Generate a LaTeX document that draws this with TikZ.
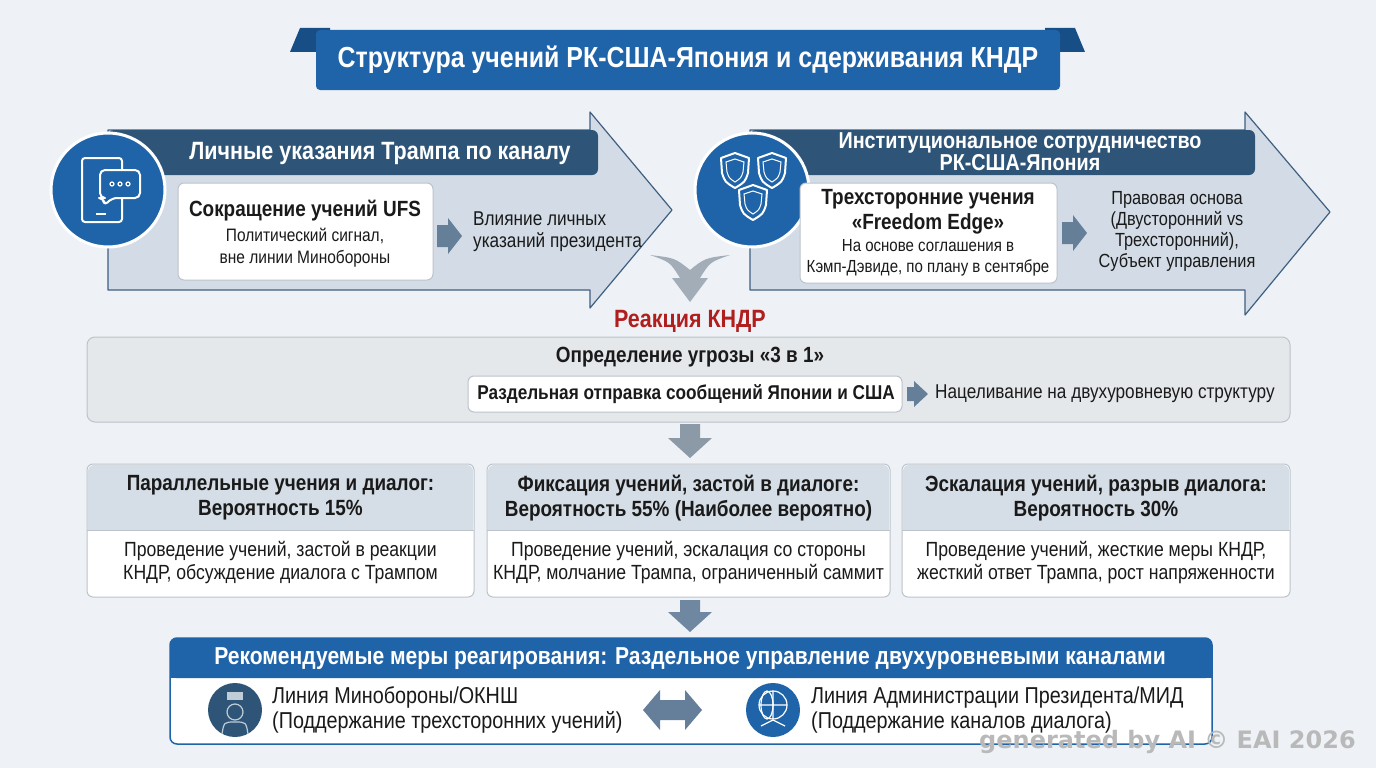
\documentclass[tikz,border=0pt]{standalone}
\usepackage{fontspec}
\setmainfont{Liberation Sans}[FakeStretch=0.86]
\newfontfamily\wmfont{DejaVu Sans}
\usetikzlibrary{arrows.meta,shapes.geometric}
\definecolor{bg}{HTML}{EEF2F6}
\definecolor{tblue}{HTML}{1F63A8}
\definecolor{dblue}{HTML}{174E86}
\definecolor{band}{HTML}{2E5577}
\definecolor{afill}{HTML}{D3DCE6}
\definecolor{aline}{HTML}{3F5F80}
\definecolor{gbox}{HTML}{E5E8EB}
\definecolor{gline}{HTML}{BCC3CA}
\definecolor{hfill}{HTML}{D5DDE6}
\definecolor{rred}{HTML}{B01E1E}
\definecolor{txt}{HTML}{1A1A1A}
\definecolor{garrow}{HTML}{8C99A6}
\tikzset{
  x=1pt,y=-1pt,
  every node/.style={text=txt,inner sep=0pt,align=center},
  wbox/.style={draw=gline,fill=white,rounded corners=6pt,line width=1pt},
  bigarrow/.style={draw=aline,fill=afill,line width=1.2pt,line join=round},
  bandst/.style={fill=band,rounded corners=6pt},
  circ/.style={circle,fill=tblue,draw=white,line width=3pt,minimum size=114pt},
  smallarr/.style={fill=aline!80},
  downarr/.style={fill=garrow},
  ticon/.style={draw=white,line width=2pt,line join=round},
}
\begin{document}
\begin{tikzpicture}
\useasboundingbox (0,0) rectangle (1376,768);
\fill[bg] (0,0) rectangle (1376,768);
% title
\fill[dblue] (290,52) -- (300,28) -- (330,28) -- (330,52) -- cycle;
\fill[dblue] (1085,52) -- (1075,28) -- (1045,28) -- (1045,52) -- cycle;
\fill[tblue,rounded corners=4pt] (316,30) rectangle (1060,90);
\node[text=white,font=\bfseries\fontsize{29}{32}\selectfont] (title) at (688,60) {Структура учений РК-США-Япония и сдерживания КНДР};
% left arrow
\draw[bigarrow] (108,130) -- (590,130) -- (590,112) -- (672,210) -- (590,308) -- (590,290) -- (108,290) -- cycle;
\fill[bandst] (108,130) rectangle (598,175);
\node[text=white,font=\bfseries\fontsize{25}{28}\selectfont] (lh) at (380,153) {Личные указания Трампа по каналу};
\node[circ] (lc) at (108,190) {};
\draw[ticon,rounded corners=3pt] (82,158) rectangle (122,222);
\draw[ticon] (96,214) -- (106,214);
\draw[ticon,fill=tblue,rounded corners=5pt] (100,170) -- (140,170) -- (140,198) -- (112,198) -- (104,206) -- (104,198) -- (100,198) -- cycle;
\foreach \i in {112,120,128} \draw[white,line width=1.2pt] (\i,184) circle (2pt);
\draw[wbox] (178,183) rectangle (433,280);
\node[font=\bfseries\fontsize{22}{26}\selectfont] (ufs) at (305,211) {Сокращение учений UFS};
\node[font=\fontsize{18}{22}\selectfont] (ufs2) at (305,248) {Политический сигнал,\\вне линии Минобороны};
\fill[smallarr] (437,225) -- (448,225) -- (448,218) -- (462,236) -- (448,254) -- (448,247) -- (437,247) -- cycle;
\node[font=\fontsize{20}{22}\selectfont,align=left,anchor=west] (inf) at (473,232) {Влияние личных\\указаний президента};
% right arrow
\draw[bigarrow] (750,130) -- (1245,130) -- (1245,112) -- (1330,212) -- (1245,315) -- (1245,290) -- (750,290) -- cycle;
\fill[bandst] (750,130) rectangle (1255,175);
\node[text=white,font=\bfseries\fontsize{23}{22}\selectfont] (rh) at (1020,152) {Институциональное сотрудничество\\РК-США-Япония};
\node[circ] (rc) at (752,190) {};
\foreach \sx/\sy in {735/168,772/168,753/200}{
  \draw[ticon,fill=tblue] (\sx-14,\sy-10) -- (\sx,\sy-15) -- (\sx+14,\sy-10) -- (\sx+13,\sy+5) .. controls (\sx+10,\sy+14) .. (\sx,\sy+20) .. controls (\sx-10,\sy+14) .. (\sx-13,\sy+5) -- cycle;
  \draw[white,line width=1pt] (\sx-9,\sy-6) -- (\sx,\sy-9) -- (\sx+9,\sy-6) -- (\sx+8,\sy+4) .. controls (\sx+6,\sy+10) .. (\sx,\sy+14) .. controls (\sx-6,\sy+10) .. (\sx-8,\sy+4) -- cycle;
}
\draw[wbox] (800,183) rectangle (1057,283);
\node[font=\bfseries\fontsize{22}{25}\selectfont] (fe) at (928,212) {Трехсторонние учения\\«Freedom Edge»};
\node[font=\fontsize{17.5}{21}\selectfont] (fe2) at (928,258) {На основе соглашения в\\Кэмп-Дэвиде, по плану в сентябре};
\fill[smallarr] (1062,222) -- (1073,222) -- (1073,215) -- (1087,233) -- (1073,251) -- (1073,244) -- (1062,244) -- cycle;
\node[font=\fontsize{19}{21}\selectfont] (leg) at (1177,231) {Правовая основа\\(Двусторонний vs\\Трехсторонний),\\Субъект управления};
% merge arrow
\fill[garrow!80] (650,255) .. controls (670,262) .. (680,278) -- (672,278) -- (690,302) -- (708,278) -- (700,278) .. controls (710,262) .. (730,255) .. controls (705,258) .. (690,270) .. controls (675,258) .. cycle;
\node[text=rred,font=\bfseries\fontsize{25}{28}\selectfont] (rk) at (690,321) {Реакция КНДР};
% gray box
\draw[draw=gline,fill=gbox,rounded corners=8pt,line width=1pt] (87,337) rectangle (1290,422);
\node[font=\bfseries\fontsize{22}{26}\selectfont] (thr) at (690,357) {Определение угрозы «3 в 1»};
\draw[wbox] (468,376) rectangle (902,412);
\node[font=\bfseries\fontsize{20}{22}\selectfont] (sep) at (686,394) {Раздельная отправка сообщений Японии и США};
\fill[smallarr] (907,387) -- (914,387) -- (914,381) -- (928,394) -- (914,407) -- (914,401) -- (907,401) -- cycle;
\node[font=\fontsize{20}{22}\selectfont,anchor=west] (tgt) at (935,394) {Нацеливание на двухуровневую структуру};
\fill[downarr] (680,424) -- (700,424) -- (700,438) -- (712,438) -- (690,458) -- (668,438) -- (680,438) -- cycle;
% three scenario boxes
\foreach \xa/\xb/\h/\b [count=\k] in {
 87/474/{Параллельные учения и диалог:\\Вероятность 15\%}/{Проведение учений, застой в реакции\\КНДР, обсуждение диалога с Трампом},
 487/890/{Фиксация учений, застой в диалоге:\\Вероятность 55\% (Наиболее вероятно)}/{Проведение учений, эскалация со стороны\\КНДР, молчание Трампа, ограниченный саммит},
 902/1290/{Эскалация учений, разрыв диалога:\\Вероятность 30\%}/{Проведение учений, жесткие меры КНДР,\\жесткий ответ Трампа, рост напряженности}}{
  \draw[draw=gline,fill=white,rounded corners=6pt,line width=1pt] (\xa,464) rectangle (\xb,597);
  \fill[hfill,rounded corners=6pt] (\xa+1,465) rectangle (\xb-1,530);
  \fill[hfill] (\xa+1,515) rectangle (\xb-1,530);
  \draw[gline] (\xa,530) -- (\xb,530);
  \node[font=\bfseries\fontsize{22}{25}\selectfont] (sh\k) at ({(\xa+\xb)/2},498) {\h};
  \node[font=\fontsize{20.5}{23}\selectfont] (sb\k) at ({(\xa+\xb)/2},563) {\b};
}
\fill[aline!75] (680,600) -- (700,600) -- (700,612) -- (712,612) -- (690,632) -- (668,612) -- (680,612) -- cycle;
% bottom box
\draw[draw=tblue,fill=white,rounded corners=7pt,line width=1.5pt] (170,638) rectangle (1212,744);
\fill[tblue,rounded corners=6pt] (170,638) rectangle (1212,678);
\fill[tblue] (170,668) rectangle (1212,678);
\node[text=white,font=\bfseries\fontsize{24.5}{27}\selectfont] (rec) at (690,659) {Рекомендуемые меры реагирования: Раздельное управление двухуровневыми каналами};
\node[circle,fill=band,minimum size=54pt] (ic1) at (235,710) {};
\fill[white!70!band] (227,692) rectangle (243,700);
\draw[white!70!band,line width=1.2pt] (235,712) circle (8pt) (222,734) .. controls (224,722) .. (235,722) .. controls (246,722) .. (248,734);
\node[circle,fill=tblue,minimum size=54pt] (ic2) at (773,710) {};
\draw[white,line width=1.2pt] (773,705) circle (14pt) (759,705) -- (787,705) (773,691) -- (773,719);
\draw[white,line width=1.2pt] (767,705) ellipse (6pt and 14pt);
\draw[white,line width=1.2pt] (761,726) -- (773,720) -- (785,726);
\node[font=\fontsize{23}{25}\selectfont,align=left,anchor=west] (l1) at (272,710) {Линия Минобороны/ОКНШ\\(Поддержание трехсторонних учений)};
\node[font=\fontsize{23}{25}\selectfont,align=left,anchor=west] (l2) at (811,710) {Линия Администрации Президента/МИД\\(Поддержание каналов диалога)};
\fill[aline!80] (643,710) -- (660,690) -- (660,700) -- (685,700) -- (685,690) -- (702,710) -- (685,730) -- (685,720) -- (660,720) -- (660,730) -- cycle;
% watermark
\node[font=\wmfont\bfseries\fontsize{24}{26}\selectfont,text=gray!55,anchor=east] (wm) at (1356,742) {generated by AI © EAI 2026};
\end{tikzpicture}
\end{document}
